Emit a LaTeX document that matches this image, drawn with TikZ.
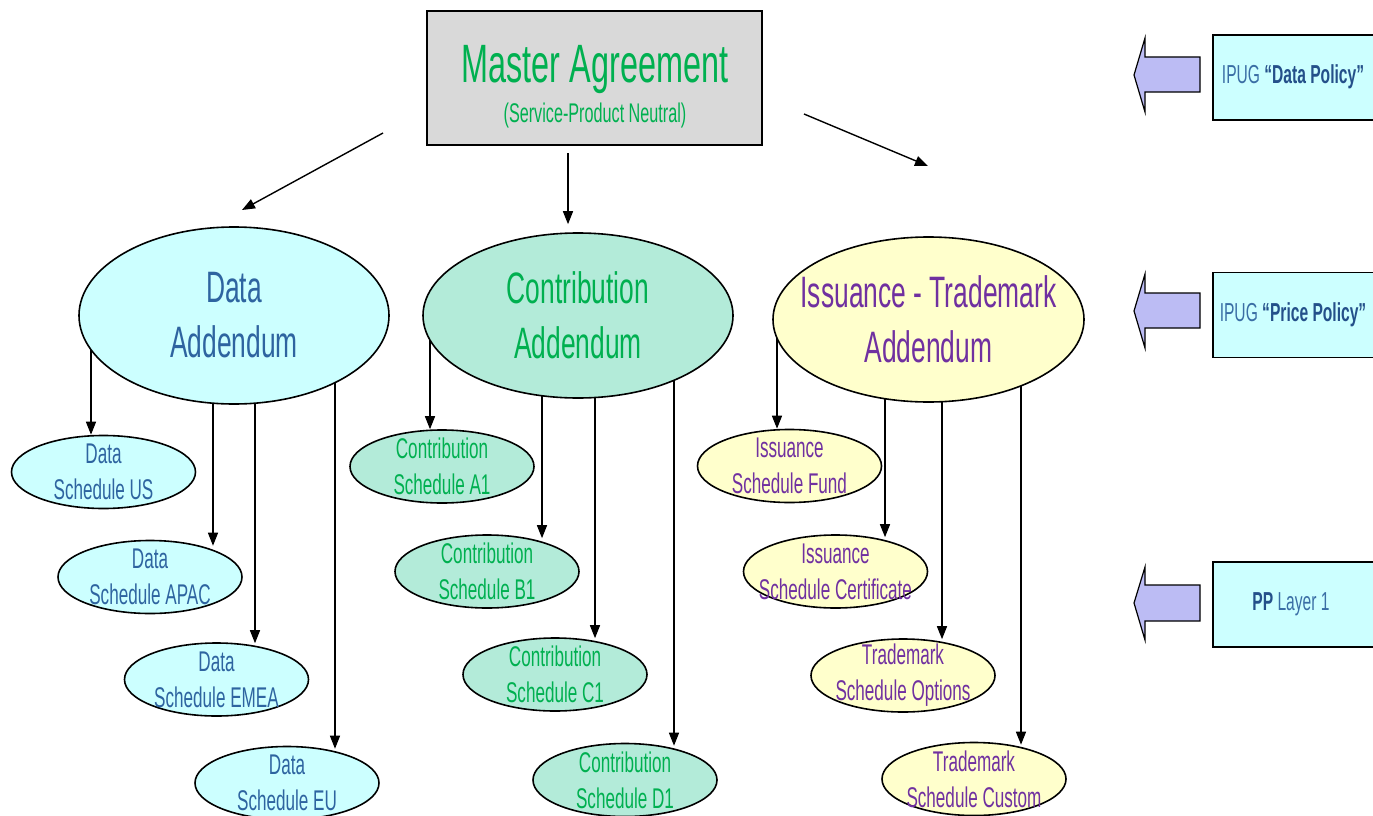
\documentclass[tikz,border=0pt]{standalone}
\usepackage{fontspec}
\setmainfont[FakeStretch=0.6]{Liberation Sans}
\usetikzlibrary{shapes.geometric,arrows.meta,calc}
\pgfdeclarelayer{bg}
\pgfsetlayers{bg,main}

\definecolor{mastergray}{HTML}{D9D9D9}
\definecolor{agreegreen}{HTML}{00B050}
\definecolor{datafill}{HTML}{CCFFFF}
\definecolor{datatext}{HTML}{2E64A0}
\definecolor{contribfill}{HTML}{B3EBD9}
\definecolor{issuefill}{HTML}{FFFFCC}
\definecolor{issuetext}{HTML}{7030A0}
\definecolor{policytext}{HTML}{3A6EA5}
\definecolor{policybold}{HTML}{24508A}
\definecolor{blockarrow}{HTML}{BCBCF4}

% vertical connector from an addendum down to one of its schedules
\newcommand\drop[4]{\draw[conn] (#1.center -| #3,0) -- ($(#2.north -| #3,0)+(0,#4)$);}

\begin{document}
\begin{tikzpicture}[x=1pt,y=-1pt,
  conn/.style={line width=1.4pt,-{Triangle[length=13pt,width=10pt]}},
  bigell/.style={ellipse,draw,line width=1.6pt,minimum width=310pt,minimum height=168pt,inner sep=0pt},
  smell/.style={ellipse,draw,line width=1.6pt,minimum width=184pt,minimum height=73pt,inner sep=0pt},
  bigtxt/.style={align=center,inner sep=0pt,font=\fontsize{44}{55}\selectfont},
  smtxt/.style={align=center,inner sep=0pt,font=\fontsize{28.5}{36}\selectfont},
  policybox/.style={draw,line width=1.6pt,fill=datafill,minimum width=170pt,minimum height=85pt,inner sep=0pt},
  policytxt/.style={inner sep=0pt,text=policytext,font=\fontsize{26}{30}\selectfont},
  blk/.style={draw,line width=1.2pt,fill=blockarrow,line join=miter}
]
\clip (0,0) rectangle (1373,816);
\useasboundingbox (0,0) rectangle (1373,816);

% master agreement
\node[draw,line width=2pt,fill=mastergray,minimum width=335pt,minimum height=134pt,inner sep=0pt] (master) at (594.5,78) {};
\node[anchor=base,inner sep=0pt,text=agreegreen,font=\fontsize{54}{60}\selectfont] (mastertitle) at (595,82) {Master Agreement};
\node[anchor=base,inner sep=0pt,text=agreegreen,font=\fontsize{27}{30}\selectfont] (mastersub) at (595,122) {(Service-Product Neutral)};

% addenda
\node[bigell,fill=datafill,minimum height=177pt] (dataA) at (234,315.5) {};
\node[bigtxt,text=datatext] (dataAt) at (dataA.center) {Data\\Addendum};
\node[bigell,fill=contribfill,minimum height=165pt] (contA) at (578,315.5) {};
\node[bigtxt,text=agreegreen] (contAt) at (contA.center) {Contribution\\Addendum};
\node[bigell,fill=issuefill,minimum height=165pt,minimum width=311pt] (issA) at (928.5,319.5) {};
\node[bigtxt,text=issuetext] (issAt) at (issA.center) {Issuance - Trademark\\Addendum};

% data schedules
\node[smell,fill=datafill] (dUS) at (103.5,472) {};
\node[smtxt,text=datatext] (dUSt) at (dUS.center) {Data\\Schedule US};
\node[smell,fill=datafill] (dAPAC) at (150,577) {};
\node[smtxt,text=datatext] (dAPACt) at (dAPAC.center) {Data\\Schedule APAC};
\node[smell,fill=datafill] (dEMEA) at (216.5,679.5) {};
\node[smtxt,text=datatext] (dEMEAt) at (dEMEA.center) {Data\\Schedule EMEA};
\node[smell,fill=datafill] (dEU) at (287,783) {};
\node[smtxt,text=datatext] (dEUt) at (dEU.center) {Data\\Schedule EU};

% contribution schedules
\node[smell,fill=contribfill] (cA) at (442,466.5) {};
\node[smtxt,text=agreegreen] (cAt) at (cA.center) {Contribution\\Schedule A1};
\node[smell,fill=contribfill] (cB) at (487,571.5) {};
\node[smtxt,text=agreegreen] (cBt) at (cB.center) {Contribution\\Schedule B1};
\node[smell,fill=contribfill] (cC) at (555,674.5) {};
\node[smtxt,text=agreegreen] (cCt) at (cC.center) {Contribution\\Schedule C1};
\node[smell,fill=contribfill] (cD) at (625,780) {};
\node[smtxt,text=agreegreen] (cDt) at (cD.center) {Contribution\\Schedule D1};

% issuance / trademark schedules
\node[smell,fill=issuefill] (iF) at (789.5,466) {};
\node[smtxt,text=issuetext] (iFt) at (iF.center) {Issuance\\Schedule Fund};
\node[smell,fill=issuefill] (iC) at (835.5,571.5) {};
\node[smtxt,text=issuetext] (iCt) at (iC.center) {Issuance\\Schedule Certificate};
\node[smell,fill=issuefill] (tO) at (903,675.5) {};
\node[smtxt,text=issuetext] (tOt) at (tO.center) {Trademark\\Schedule Options};
\node[smell,fill=issuefill] (tC) at (974,779) {};
\node[smtxt,text=issuetext] (tCt) at (tC.center) {Trademark\\Schedule Custom};

% policy boxes on the right
\node[policybox] (p1) at (1298,77.5) {};
\node[policytxt] (p1t) at (1293,77) {IPUG \textcolor{policybold}{\bfseries “Data Policy”}};
\node[policybox] (p2) at (1298,315) {};
\node[policytxt] (p2t) at (1293,315) {IPUG \textcolor{policybold}{\bfseries “Price Policy”}};
\node[policybox] (p3) at (1298,604.5) {};
\node[policytxt] (p3t) at (1291,604) {\textcolor{policybold}{\bfseries PP} Layer 1};

% block arrows pointing left
\draw[blk] (1134,75) -- (1145,38) -- (1145,57) -- (1200,57) -- (1200,92) -- (1145,92) -- (1145,112) -- cycle;
\draw[blk] (1134,311) -- (1145,274) -- (1145,293) -- (1200,293) -- (1200,328) -- (1145,328) -- (1145,348) -- cycle;
\draw[blk] (1134,603) -- (1145,567) -- (1145,585) -- (1200,585) -- (1200,621) -- (1145,621) -- (1145,640) -- cycle;

% arrows out of the master agreement
\coordinate (mL) at (383,133);
\coordinate (mLend) at (242,210);
\coordinate (mR) at (804,114);
\coordinate (mRend) at (928,166);
\draw[conn] (mL) -- (mLend);
\draw[conn] (mR) -- (mRend);
\draw[conn,shorten <=7pt] (master.south -| 568,0) -- ($(contA.north -| 568,0)+(0,-8)$);

% drops to the schedules (behind the addenda)
\begin{pgfonlayer}{bg}
\fill[white] (0,0) rectangle (1373,816);
\drop{dataA}{dUS}{91}{0}
\drop{dataA}{dAPAC}{213}{6}
\drop{dataA}{dEMEA}{255}{1}
\drop{dataA}{dEU}{335}{3}
\drop{contA}{cA}{430}{0}
\drop{contA}{cB}{542}{4}
\drop{contA}{cC}{595}{1}
\drop{contA}{cD}{674}{3}
\drop{issA}{iF}{777}{0}
\drop{issA}{iC}{885}{3}
\drop{issA}{tO}{942}{1}
\drop{issA}{tC}{1021}{3}
\end{pgfonlayer}
\end{tikzpicture}
\end{document}
